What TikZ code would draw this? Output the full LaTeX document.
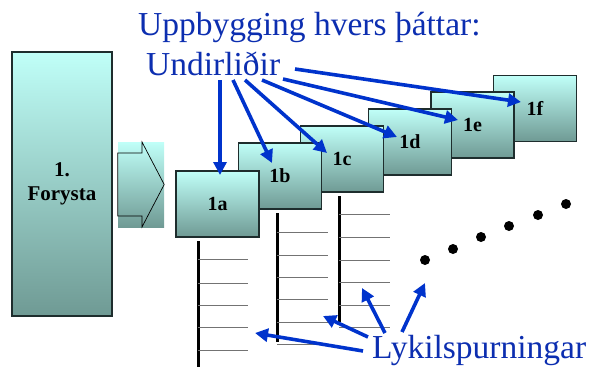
\documentclass[tikz,border=0pt]{standalone}
\usepackage{fontspec}
\setmainfont{Liberation Serif}
\usetikzlibrary{arrows.meta}
\definecolor{arrblue}{RGB}{0,51,204}
\definecolor{txtblue}{RGB}{12,46,176}
\definecolor{boxtop}{RGB}{192,255,248}
\definecolor{boxmid}{RGB}{166,221,215}
\definecolor{boxbot}{RGB}{111,154,148}
\definecolor{boxedge}{RGB}{30,45,45}
\tikzset{
  box/.style={draw=boxedge, line width=1.2pt, top color=boxtop, middle color=boxmid, bottom color=boxbot,
    minimum width=83pt, minimum height=66pt, inner sep=0pt, font=\fontsize{20}{24}\selectfont\bfseries},
  bigbox/.style={box, minimum width=100pt, minimum height=264pt, align=center, font=\fontsize{21}{24}\selectfont\bfseries},
  arrbg/.style={top color=boxtop, middle color=boxmid, bottom color=boxbot, minimum width=46pt, minimum height=85pt, inner sep=0pt},
  ttl/.style={text=txtblue, inner sep=0pt, anchor=base west, font=\fontsize{33.5}{40}\selectfont},
  bluearrow/.style={draw=arrblue, line width=3.6pt, -{Triangle[width=13pt,length=13pt]}},
  rung/.style={draw=black!55, line width=0.9pt},
  rail/.style={draw=black, line width=3pt},
  dot/.style={fill=black, circle, inner sep=0pt, minimum size=10pt}
}
\begin{document}
\begin{tikzpicture}[x=1pt,y=-1pt]
\useasboundingbox (0,0) rectangle (599,367);
% Forysta
\node[bigbox] (forysta) at (62,184) {1.\\[0pt]Forysta};
% arrow between
\node[arrbg] (abg) at (141,184.5) {};
\draw[black, line width=0.7pt] (abg.west |- 0,153) -- (142,153) -- (142,142) -- (abg.east) -- (142,227) -- (142,216) -- (abg.west |- 0,216) -- cycle;
% boxes, back to front
\node[box] (b1f) at (535,108.5) {1f};
\node[box] (b1e) at (472.5,125) {1e};
\node[box] (b1d) at (410,142) {1d};
\node[box] (b1c) at (342,159) {1c};
\node[box] (b1b) at (280,176) {1b};
\node[box] (b1a) at (217.5,204) {1a};
% ladders
\draw[rail] (198,241) -- (198,367);
\foreach \y in {259,283,305,327,350} \draw[rung] (198,\y) -- (248,\y);
\draw[rail] (277,213) -- (277,342);
\foreach \y in {232,255,277,299,322,344} \draw[rung] (277,\y) -- (328,\y);
\draw[rail] (339,196) -- (339,322);
\foreach \y in {214,237,260,282,305,327} \draw[rung] (339,\y) -- (390,\y);
% dots
\node[dot] (d1) at (425,260) {};
\node[dot] (d2) at (453,249) {};
\node[dot] (d3) at (481,237) {};
\node[dot] (d4) at (509,226) {};
\node[dot] (d5) at (538,215) {};
\node[dot] (d6) at (566,204) {};
% titles
\node[ttl] (title1) at (138,35) {Uppbygging hvers þáttar:};
\node[ttl] (title2) at (146,75) {Undirliðir};
\node[ttl] (lyk) at (372,358) {Lykilspurningar};
% arrow endpoints
\coordinate (u1) at (220,80);
\coordinate (u2) at (233,80);
\coordinate (u3) at (245,80);
\coordinate (u4) at (262,80);
\coordinate (u5) at (283,79);
\coordinate (u6) at (295,69);
\coordinate (t1) at (220,175);
\coordinate (t2) at (272,163);
\coordinate (t3) at (327,153);
\coordinate (t4) at (397,137);
\coordinate (t5) at (458,120);
\coordinate (t6) at (521,102);
\foreach \i in {1,...,6} \draw[bluearrow] (u\i) -- (t\i);
\coordinate (l1) at (363,351);
\coordinate (l2) at (368,337);
\coordinate (l3) at (385,333);
\coordinate (l4) at (402,332);
\coordinate (m1) at (255,333);
\coordinate (m2) at (323,316);
\coordinate (m3) at (362,288);
\coordinate (m4) at (425,283);
\foreach \i in {1,...,4} \draw[bluearrow] (l\i) -- (m\i);
\end{tikzpicture}
\end{document}
